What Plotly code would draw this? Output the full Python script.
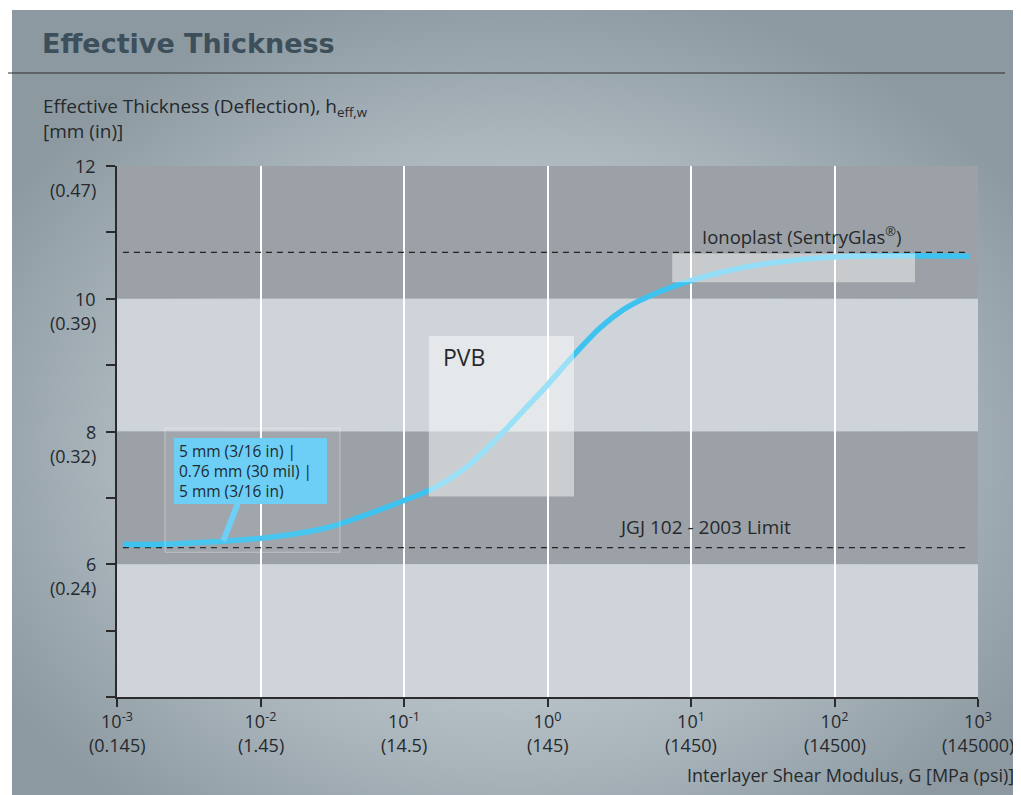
import base64
import numpy as np
import plotly.graph_objects as go

# ---------------- data ----------------
shear_modulus_mpa = [0.0011, 0.002, 0.01, 0.029, 0.049, 0.1, 0.159, 0.275, 0.467, 0.792, 0.98,
                     1.37, 1.68, 2.32, 3.58, 6.08, 9.84, 25.8, 97.8, 880]
eff_thickness_mm = [6.30, 6.30, 6.39, 6.55, 6.71, 6.96, 7.14, 7.47, 7.94, 8.47, 8.68,
                    9.04, 9.25, 9.56, 9.87, 10.11, 10.27, 10.49, 10.63, 10.64]

ionoplast_limit = 10.70
jgj_limit = 6.25

x_tick_vals = [0.001, 0.01, 0.1, 1, 10, 100, 1000]
x_tick_text = ["10<sup>-3</sup>", "10<sup>-2</sup>", "10<sup>-1</sup>", "10<sup>0</sup>",
               "10<sup>1</sup>", "10<sup>2</sup>", "10<sup>3</sup>"]
x_psi_text = ["(0.145)", "(1.45)", "(14.5)", "(145)", "(1450)", "(14500)", "(145000)"]

y_label_vals = [12, 10, 8, 6]
y_in_text = ["(0.47)", "(0.39)", "(0.32)", "(0.24)"]
y_tick_vals = [4, 5, 6, 7, 8, 9, 10, 11, 12]

band_edges = [(10, 12, "dark"), (8, 10, "light"), (6, 8, "dark"), (4, 6, "light")]

pvb_box = dict(x0=0.149, x1=1.53, y0=7.02, y1=9.44)
iono_box = dict(x0=7.4, x1=364, y0=10.25, y1=10.68)
note_box = dict(x0=0.00216, x1=0.0358, y0=6.18, y1=8.05)

callout_point = (0.0055, 6.35)

FONT = "Open Sans"
TXT = "#26292c"

# ---------------- geometry ----------------
OFF = 8                      # page body margin
W, H = 1021 - OFF, 795 - OFF
L, R, T, B = 117 - OFF, 43, 166 - OFF, 98
PW, PH = W - L - R, H - T - B
X0, Y0 = 117, 697            # screen position of plot origin


def px_x(p):
    return (p - X0) / PW


def px_y(p):
    return (Y0 - p) / PH


fig = go.Figure()

# background radial gradient (decorative)
svg = ("<svg xmlns='http://www.w3.org/2000/svg' width='1009' height='785' preserveAspectRatio='none'>"
       "<defs><radialGradient id='g' cx='0.5' cy='0.56' r='0.6'>"
       "<stop offset='0' stop-color='#d3dadf'/>"
       "<stop offset='0.45' stop-color='#bcc6cc'/>"
       "<stop offset='1' stop-color='#8c99a1'/>"
       "</radialGradient></defs>"
       "<rect width='100%' height='100%' fill='url(#g)'/></svg>")
src = "data:image/svg+xml;base64," + base64.b64encode(svg.encode()).decode()
fig.add_layout_image(dict(source=src, xref="paper", yref="paper",
                          x=px_x(12), y=px_y(10), sizex=(1021 - 12) / PW, sizey=(795 - 10) / PH,
                          xanchor="left", yanchor="top", sizing="stretch", layer="below"))

# bands
for y0, y1, kind in band_edges:
    fig.add_shape(type="rect", xref="x domain", yref="y", x0=0, x1=1, y0=y0, y1=y1,
                  fillcolor="#9ba1a6" if kind == "dark" else "#ced4d9",
                  line=dict(width=0), layer="below")

# dashed reference lines
for val in (ionoplast_limit, jgj_limit):
    fig.add_trace(go.Scatter(x=[shear_modulus_mpa[0], shear_modulus_mpa[-1]], y=[val, val],
                             mode="lines", line=dict(color="#222222", width=1.3, dash="6px,5px"),
                             hoverinfo="skip", showlegend=False))

# curve
fig.add_trace(go.Scatter(x=shear_modulus_mpa, y=eff_thickness_mm, mode="lines",
                         line=dict(color="#3ec3f0", width=5.5, shape="spline", smoothing=0.8),
                         showlegend=False))

# translucent boxes above the curve
for bx, fill, ln in ((pvb_box, "rgba(255,255,255,0.48)", 0),
                     (iono_box, "rgba(255,255,255,0.45)", 0),
                     (note_box, "rgba(255,255,255,0.06)", 1)):
    fig.add_shape(type="rect", xref="x", yref="y", layer="above",
                  fillcolor=fill, line=dict(width=ln, color="rgba(255,255,255,0.35)"), **bx)

# header rule
fig.add_shape(type="line", xref="paper", yref="paper", x0=px_x(0), x1=px_x(1005),
              y0=px_y(73), y1=px_y(73), line=dict(color="#2f2f2f", width=1.2))

ann = []
# y-axis labels
for v, t in zip(y_label_vals, y_in_text):
    ann.append(dict(x=0, xref="paper", y=v, yref="y", xshift=-19, xanchor="right",
                    yanchor="middle", text=str(v), showarrow=False,
                    font=dict(family=FONT, size=18, color=TXT)))
    ann.append(dict(x=0, xref="paper", y=v, yref="y", xshift=-19, yshift=-24, xanchor="right",
                    yanchor="middle", text=t, showarrow=False,
                    font=dict(family=FONT, size=18, color=TXT)))
# x psi labels
for v, t in zip(x_tick_vals, x_psi_text):
    ann.append(dict(x=np.log10(v), xref="x", y=0, yref="paper", yshift=-48, xanchor="center",
                    yanchor="middle", text=t, showarrow=False,
                    font=dict(family=FONT, size=18, color=TXT)))
# axis titles
ann.append(dict(x=px_x(41), xref="paper", y=px_y(107), yref="paper", xanchor="left",
                yanchor="middle", showarrow=False,
                text="Effective Thickness (Deflection), h<sub>eff,w</sub>",
                font=dict(family=FONT, size=19, color=TXT)))
ann.append(dict(x=px_x(41), xref="paper", y=px_y(131), yref="paper", xanchor="left",
                yanchor="middle", showarrow=False, text="[mm (in)]",
                font=dict(family=FONT, size=19, color=TXT)))
ann.append(dict(x=px_x(1016), xref="paper", y=px_y(775), yref="paper", xanchor="right",
                yanchor="middle", showarrow=False,
                text="Interlayer Shear Modulus, G [MPa (psi)]",
                font=dict(family=FONT, size=18, color=TXT)))
# in-plot labels
ann.append(dict(x=np.log10(11.6), y=10.96, xanchor="left", yanchor="middle", showarrow=False,
                text="Ionoplast (SentryGlas<sup>®</sup>)", font=dict(family=FONT, size=18.5, color=TXT)))
ann.append(dict(x=np.log10(3.05), y=6.56, xanchor="left", yanchor="middle", showarrow=False,
                text="JGJ 102 - 2003 Limit", font=dict(family=FONT, size=19, color=TXT)))
ann.append(dict(x=np.log10(0.181), y=9.12, xanchor="left", yanchor="middle", showarrow=False,
                text="PVB", font=dict(family=FONT, size=23, color=TXT)))
# callout
ann.append(dict(x=np.log10(callout_point[0]), y=callout_point[1], ax=27, ay=-70,
                showarrow=True, arrowhead=0, arrowwidth=6, arrowcolor="#6dcff6",
                standoff=0, align="left", bgcolor="#6dcff6", bordercolor="#6dcff6",
                borderpad=4, width=143, height=56,
                text="5 mm (3/16 in) |<br>0.76 mm (30 mil) |<br>5 mm (3/16 in)",
                font=dict(family=FONT, size=15.5, color="#1e2a30")))

fig.update_layout(
    width=W, height=H, margin=dict(l=L, r=R, t=T, b=B, pad=0),
    paper_bgcolor="white", plot_bgcolor="rgba(0,0,0,0)",
    title=dict(text="<b>Effective Thickness</b>", x=(42 - OFF) / W, xanchor="left",
               y=1 - (44 - OFF) / H, yanchor="middle",
               font=dict(family="DejaVu Sans", size=27, color="#3d4f5a")),
    annotations=ann,
    showlegend=False,
)
fig.update_xaxes(type="log", range=[-3, 3], tickvals=x_tick_vals, ticktext=x_tick_text,
                 showgrid=True, gridcolor="white", gridwidth=2,
                 showline=True, linecolor="#2b2b2b", linewidth=1.5,
                 ticks="outside", ticklen=8, tickwidth=1.5, tickcolor="#2b2b2b",
                 tickfont=dict(family=FONT, size=18, color=TXT), zeroline=False)
fig.update_yaxes(range=[4, 12], tickvals=y_tick_vals, showticklabels=False, showgrid=False,
                 showline=True, linecolor="#2b2b2b", linewidth=1.5,
                 ticks="outside", ticklen=9, tickwidth=1.5, tickcolor="#2b2b2b", zeroline=False)

fig.write_html("out.html")
